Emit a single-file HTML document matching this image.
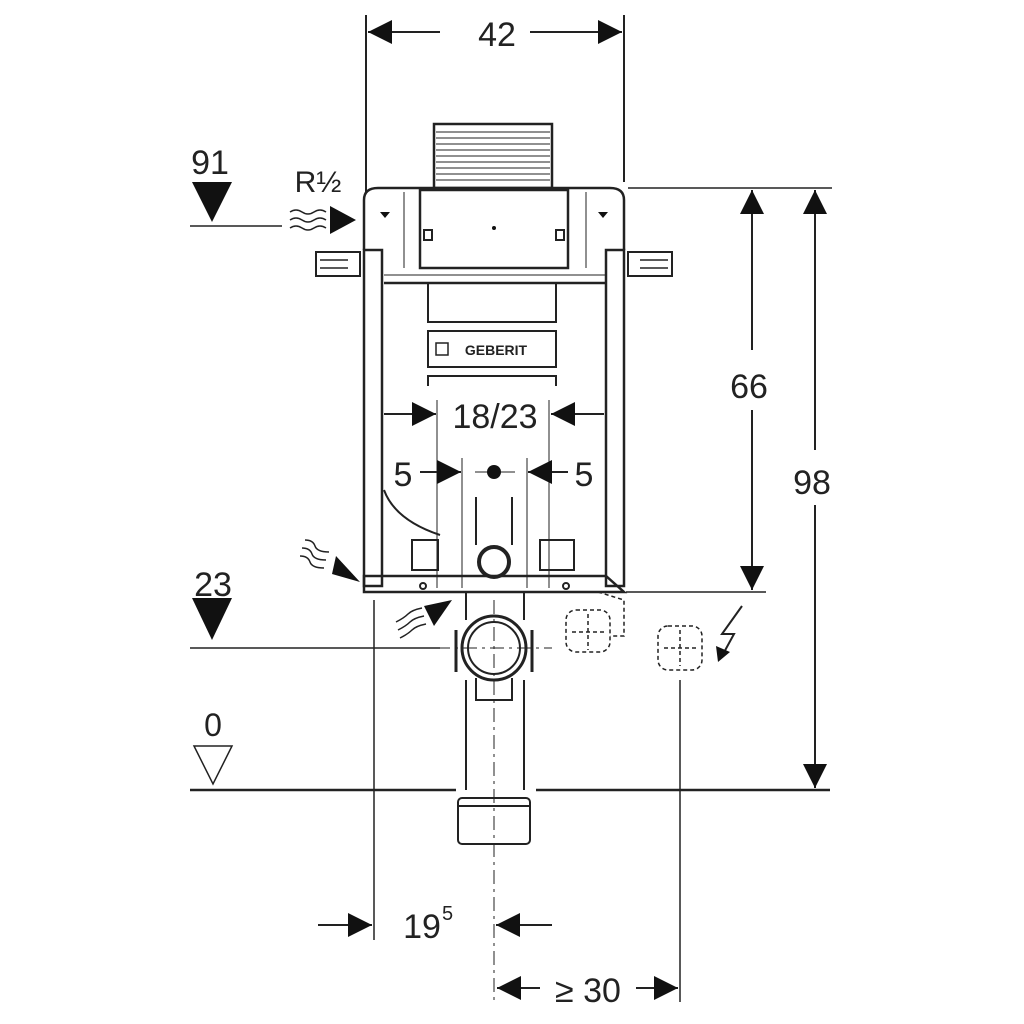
<!DOCTYPE html>
<html><head><meta charset="utf-8"><style>
html,body{margin:0;padding:0;background:#fff;}
svg{display:block;}
text{font-family:"Liberation Sans",sans-serif;fill:#222;}
</style></head><body>
<svg width="1024" height="1024" viewBox="0 0 1024 1024" xmlns="http://www.w3.org/2000/svg">
<defs>
<marker id="a" viewBox="0 0 10 10" refX="10" refY="5" markerWidth="30" markerHeight="24" markerUnits="userSpaceOnUse" orient="auto"><path d="M0,0 L10,5 L0,10 z" fill="#111"/></marker>
</defs>
<g stroke="#222" fill="none" stroke-width="2">
<line x1="366" y1="15" x2="366" y2="192"/>
<line x1="624" y1="15" x2="624" y2="182"/>
<line x1="440" y1="32" x2="368" y2="32" marker-end="url(#a)"/>
<line x1="530" y1="32" x2="622" y2="32" marker-end="url(#a)"/>
<rect x="434" y="124" width="118" height="64" stroke-width="2.5"/>
<g stroke-width="1">
<line x1="436" y1="132" x2="550" y2="132"/><line x1="436" y1="138" x2="550" y2="138"/><line x1="436" y1="144" x2="550" y2="144"/><line x1="436" y1="150" x2="550" y2="150"/><line x1="436" y1="156" x2="550" y2="156"/><line x1="436" y1="162" x2="550" y2="162"/><line x1="436" y1="168" x2="550" y2="168"/><line x1="436" y1="174" x2="550" y2="174"/><line x1="436" y1="180" x2="550" y2="180"/>
</g>
<path d="M364,250 L364,200 Q364,188 378,188 L610,188 Q624,188 624,200 L624,250" stroke-width="2.5"/>
<rect x="420" y="190" width="148" height="78" stroke-width="2.5"/>
<rect x="424" y="230" width="8" height="10"/><rect x="556" y="230" width="8" height="10"/>
<line x1="384" y1="283" x2="606" y2="283" stroke-width="2.5"/>
<line x1="384" y1="275" x2="606" y2="275" stroke-width="1"/>
<line x1="404" y1="192" x2="404" y2="268" stroke-width="1"/>
<line x1="586" y1="192" x2="586" y2="268" stroke-width="1"/>
<rect x="364" y="250" width="18" height="336" stroke-width="2.5"/>
<rect x="606" y="250" width="18" height="336" stroke-width="2.5"/>
<rect x="316" y="252" width="44" height="24" stroke-width="2"/>
<line x1="320" y1="260" x2="348" y2="260" stroke-width="1.5"/><line x1="320" y1="268" x2="348" y2="268" stroke-width="1.5"/>
<rect x="628" y="252" width="44" height="24" stroke-width="2"/>
<line x1="640" y1="260" x2="668" y2="260" stroke-width="1.5"/><line x1="640" y1="268" x2="668" y2="268" stroke-width="1.5"/>
<path d="M428,283 L428,322 L556,322 L556,283"/>
<rect x="428" y="331" width="128" height="36"/>
<path d="M428,386 L428,376 L556,376 L556,386"/>
<rect x="436" y="343" width="12" height="12" stroke-width="1.5"/>
<line x1="384" y1="414" x2="436" y2="414" marker-end="url(#a)"/>
<line x1="604" y1="414" x2="551" y2="414" marker-end="url(#a)"/>
<line x1="437" y1="400" x2="437" y2="588" stroke-width="1"/>
<line x1="549" y1="400" x2="549" y2="588" stroke-width="1"/>
<line x1="420" y1="472" x2="461" y2="472" marker-end="url(#a)"/>
<line x1="568" y1="472" x2="528" y2="472" marker-end="url(#a)"/>
<line x1="462" y1="458" x2="462" y2="588" stroke-width="1"/>
<line x1="527" y1="458" x2="527" y2="588" stroke-width="1"/>
<line x1="475" y1="472" x2="515" y2="472" stroke-width="1"/>
<path d="M476,497 L476,545 M512,497 L512,545"/>
<circle cx="494" cy="562" r="15" stroke-width="4"/>
<path d="M384,490 Q395,520 440,535" stroke-width="2"/>
<rect x="412" y="540" width="26" height="30"/><rect x="540" y="540" width="34" height="30"/>
<path d="M364,576 L606,576 L624,592 L364,592 Z" stroke-width="2.5"/>
<circle cx="423" cy="586" r="3"/><circle cx="566" cy="586" r="3"/>
<path d="M466,592 L466,620 M524,592 L524,620"/>
<circle cx="494" cy="648" r="32" stroke-width="3"/>
<circle cx="494" cy="648" r="26" stroke-width="2"/>
<path d="M456,630 L456,672 M532,630 L532,672" stroke-width="3"/>
<path d="M476,678 L476,700 L512,700 L512,678"/>
<path d="M466,680 L466,790 M524,680 L524,790"/>
<rect x="458" y="798" width="72" height="46" rx="4"/>
<line x1="458" y1="806" x2="530" y2="806"/>
<line x1="494" y1="600" x2="494" y2="1000" stroke-width="1" stroke-dasharray="14,5,3,5"/>
<line x1="436" y1="648" x2="552" y2="648" stroke-width="1" stroke-dasharray="14,5,3,5"/>
<line x1="190" y1="226" x2="282" y2="226" stroke-width="1.5"/>
<line x1="190" y1="648" x2="440" y2="648" stroke-width="1.5"/>
<line x1="190" y1="790" x2="456" y2="790" stroke-width="2.5"/>
<line x1="536" y1="790" x2="830" y2="790" stroke-width="2.5"/>
<polygon points="192,182 232,182 212,222" fill="#111" stroke="none"/>
<polygon points="192,598 232,598 212,640" fill="#111" stroke="none"/>
<polygon points="194,746 232,746 213,784" stroke-width="1.5"/>
<path d="M290,212 q6,-4 12,0 t12,0 t12,0 M290,220 q6,-4 12,0 t12,0 t12,0 M290,228 q6,-4 12,0 t12,0 t12,0" stroke-width="1.5"/>
<polygon points="330,206 356,220 330,234" fill="#111" stroke="none"/>
<path d="M305,540 q8,0 10,6 t14,6 M302,548 q8,0 10,6 t14,6 M300,556 q8,0 10,6 t14,6" stroke-width="1.5"/>
<polygon points="336,556 360,582 332,574" fill="#111" stroke="none"/>
<path d="M396,622 q8,-4 12,-8 t14,-6 M398,630 q8,-4 12,-8 t14,-6 M400,638 q8,-4 12,-8 t14,-6" stroke-width="1.5"/>
<polygon points="424,606 452,600 434,626" fill="#111" stroke="none"/>
<line x1="628" y1="188" x2="832" y2="188" stroke-width="1.5"/>
<line x1="626" y1="592" x2="766" y2="592" stroke-width="1.5"/>
<line x1="752" y1="350" x2="752" y2="190" marker-end="url(#a)"/>
<line x1="752" y1="410" x2="752" y2="590" marker-end="url(#a)"/>
<line x1="815" y1="450" x2="815" y2="190" marker-end="url(#a)"/>
<line x1="815" y1="505" x2="815" y2="788" marker-end="url(#a)"/>
<line x1="374" y1="600" x2="374" y2="940" stroke-width="1.5"/>
<line x1="318" y1="925" x2="372" y2="925" marker-end="url(#a)"/>
<line x1="552" y1="925" x2="496" y2="925" marker-end="url(#a)"/>
<line x1="680" y1="680" x2="680" y2="1002" stroke-width="1.5"/>
<line x1="540" y1="988" x2="497" y2="988" marker-end="url(#a)"/>
<line x1="636" y1="988" x2="678" y2="988" marker-end="url(#a)"/>
<g stroke-dasharray="4,3" stroke-width="1.5">
<rect x="566" y="610" width="44" height="42" rx="10"/>
<rect x="658" y="626" width="44" height="44" rx="10"/>
<path d="M598,592 L624,600 L624,636 L610,636"/>
<line x1="572" y1="632" x2="606" y2="632"/><line x1="588" y1="614" x2="588" y2="650"/>
<line x1="664" y1="648" x2="698" y2="648"/><line x1="680" y1="630" x2="680" y2="666"/>
</g>
<path d="M742,606 L722,634 L734,634 L722,656" stroke-width="2"/>
<polygon points="716,646 730,652 718,662" fill="#111" stroke="none"/>
<polygon points="380,212 390,212 385,218" fill="#111" stroke="none"/>
<polygon points="598,212 608,212 603,218" fill="#111" stroke="none"/>
</g>
<circle cx="494" cy="472" r="7" fill="#111"/>
<circle cx="494" cy="228" r="2" fill="#111"/>
<text x="497" y="46" font-size="34" text-anchor="middle">42</text>
<text x="210" y="174" font-size="34" text-anchor="middle">91</text>
<text x="318" y="192" font-size="30" text-anchor="middle">R½</text>
<text x="213" y="596" font-size="34" text-anchor="middle">23</text>
<text x="213" y="736" font-size="32" text-anchor="middle">0</text>
<text x="495" y="428" font-size="34" text-anchor="middle">18/23</text>
<text x="403" y="486" font-size="34" text-anchor="middle">5</text>
<text x="584" y="486" font-size="34" text-anchor="middle">5</text>
<text x="749" y="398" font-size="34" text-anchor="middle">66</text>
<text x="812" y="494" font-size="34" text-anchor="middle">98</text>
<text x="422" y="938" font-size="34" text-anchor="middle">19</text>
<text x="442" y="920" font-size="20">5</text>
<text x="588" y="1002" font-size="34" text-anchor="middle">≥ 30</text>
<text x="496" y="355" font-size="14" font-weight="bold" text-anchor="middle">GEBERIT</text>
</svg>
</body></html>
